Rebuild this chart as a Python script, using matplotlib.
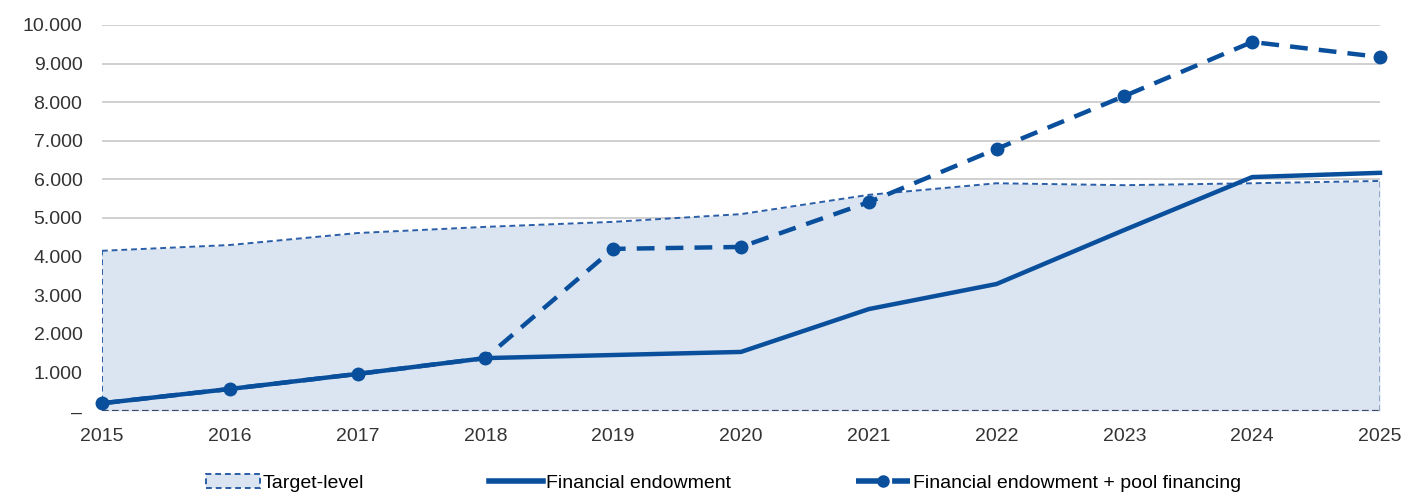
import matplotlib
matplotlib.use("Agg")
import matplotlib.pyplot as plt
from matplotlib.ticker import FuncFormatter
from matplotlib.patches import Patch
from matplotlib.lines import Line2D

plt.rcParams['font.family'] = ['Liberation Sans', 'DejaVu Sans']

years = [2015, 2016, 2017, 2018, 2019, 2020, 2021, 2022, 2023, 2024, 2025]
target_level = [4150, 4300, 4610, 4770, 4900, 5100, 5600, 5900, 5850, 5900, 5960]
endowment = [200, 570, 960, 1370, 1450, 1530, 2640, 3290, 4690, 6060, 6170]
endowment_pool = [200, 570, 960, 1370, 4200, 4250, 5410, 6790, 8160, 9560, 9170]

blue = "#0a4f9c"
fill_blue = "#dbe5f1"

fig = plt.figure(figsize=(14.06, 4.96), dpi=100)
ax = fig.add_axes([0.0725, 0.1714, 0.909, 0.7782])

# target level area with dashed outline
ax.fill_between(years, 0, target_level, color=fill_blue, lw=0, zorder=1)
ax.plot(years, target_level, color="#2b5ea8", lw=1.4, ls=(0, (3, 2)), zorder=2)
ax.plot([years[0], years[0]], [0, target_level[0]], color="#2b5ea8", lw=1.4, ls=(0, (3, 2)), zorder=2)
ax.plot([years[-1], years[-1]], [0, target_level[-1]], color="#8fa6c8", lw=1.4, ls=(0, (3, 2)), zorder=2)
ax.plot([years[0], years[-1]], [0, 0], color="#3a4a66", lw=1.6, ls=(0, (3, 1.5)), zorder=2)

ax.plot(years, endowment_pool, color=blue, lw=3.2, ls=(0, (4, 2.5)), marker="o", ms=9,
        zorder=3, clip_on=False)
ax.plot(years, endowment, color=blue, lw=3.2, zorder=4, clip_on=False)

ax.set_xlim(2015, 2025)
ax.set_ylim(0, 10000)
ax.set_xticks(years)
ax.set_yticks(range(0, 10001, 1000))
ax.yaxis.set_major_formatter(FuncFormatter(
    lambda v, p: "–" if v == 0 else f"{int(v):,}".replace(",", ".")))
ax.grid(axis="y", color="#c8c8c8", lw=1.2, zorder=0)
ax.set_axisbelow(True)
for s in ax.spines.values():
    s.set_visible(False)
ax.tick_params(length=0, labelsize=14, colors="#333333")
ax.tick_params(axis="y", pad=14)
ax.tick_params(axis="x", pad=12)

handles = [
    Patch(facecolor=fill_blue, edgecolor="#2b5ea8", ls=(0, (3, 2)), lw=1.4),
    Line2D([], [], color=blue, lw=4),
    Line2D([], [], color=blue, lw=4, ls=(0, (4, 2.5)), marker="o", ms=8),
]
labels = ["Target-level", "Financial endowment", "Financial endowment + pool financing"]
fig.legend(handles, labels, loc="center", bbox_to_anchor=(0.5145, 0.026), ncol=3,
           frameon=False, fontsize=14, handlelength=2.8, handletextpad=0.15,
           columnspacing=6.4, borderpad=0)

fig.savefig("out.png", dpi=100)
